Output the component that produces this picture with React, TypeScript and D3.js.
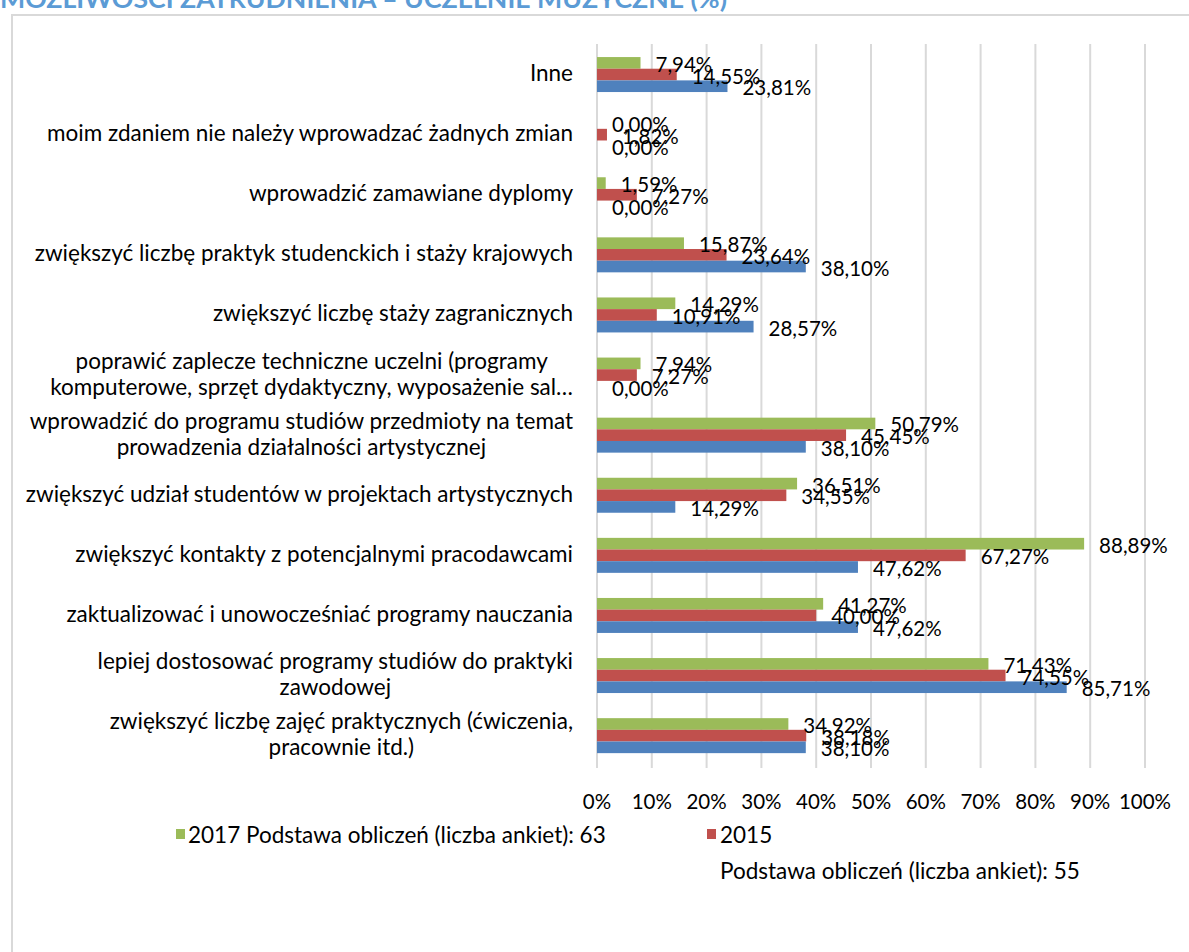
import React, { useEffect, useRef } from 'react';
import * as d3 from 'd3';

const titleText = 'MOŻLIWOŚCI ZATRUDNIENIA – UCZELNIE MUZYCZNE (%)';

const categories: string[][] = [
  ['Inne'],
  ['moim zdaniem nie należy wprowadzać żadnych zmian'],
  ['wprowadzić zamawiane dyplomy'],
  ['zwiększyć liczbę praktyk studenckich i staży krajowych'],
  ['zwiększyć liczbę staży zagranicznych'],
  ['poprawić zaplecze techniczne uczelni (programy', 'komputerowe, sprzęt dydaktyczny, wyposażenie sal…'],
  ['wprowadzić do programu studiów przedmioty na temat', 'prowadzenia działalności artystycznej'],
  ['zwiększyć udział studentów w projektach artystycznych'],
  ['zwiększyć kontakty z potencjalnymi pracodawcami'],
  ['zaktualizować i unowocześniać programy nauczania'],
  ['lepiej dostosować programy studiów do praktyki', 'zawodowej'],
  ['zwiększyć liczbę zajęć praktycznych (ćwiczenia,', 'pracownie itd.)'],
];

const values2017 = [7.94, 0.0, 1.59, 15.87, 14.29, 7.94, 50.79, 36.51, 88.89, 41.27, 71.43, 34.92];
const values2015 = [14.55, 1.82, 7.27, 23.64, 10.91, 7.27, 45.45, 34.55, 67.27, 40.0, 74.55, 38.18];
const valuesOther = [23.81, 0.0, 0.0, 38.1, 28.57, 0.0, 38.1, 14.29, 47.62, 47.62, 85.71, 38.1];

const xTicks = [0, 10, 20, 30, 40, 50, 60, 70, 80, 90, 100];

const seriesColors = ['#9BBB59', '#C0504D', '#4F81BD'];

const legend2017 = ['2017 Podstawa obliczeń (liczba ankiet): 63'];
const legend2015 = ['2015', 'Podstawa obliczeń (liczba ankiet): 55'];

const W = 1189;
const H = 952;
const FONT = 'Lato, "Open Sans", sans-serif';
const FS_TEXT = 22.5;
const FS_NUM = 20.5;

export default function App() {
  const ref = useRef<SVGSVGElement | null>(null);

  useEffect(() => {
    const svg = d3.select(ref.current);
    svg.selectAll('*').remove();

    // frame
    svg.append('rect')
      .attr('x', 12).attr('y', 15).attr('width', W + 20).attr('height', H + 20)
      .attr('fill', 'white').attr('stroke', '#D9D9D9').attr('stroke-width', 2);

    // title
    svg.append('text')
      .attr('x', 0).attr('y', 8)
      .attr('font-family', FONT).attr('font-weight', 700).attr('font-size', 24)
      .attr('fill', '#5B9BD5')
      .attr('textLength', 727).attr('lengthAdjust', 'spacingAndGlyphs')
      .text(titleText);

    const x = d3.scaleLinear().domain([0, 100]).range([597, 1145]);
    const y = d3.scaleBand<number>()
      .domain(d3.range(categories.length))
      .range([44.5, 765.7])
      .paddingInner(0.418)
      .paddingOuter(0.209);
    const ys = d3.scaleBand<number>().domain([0, 1, 2]).range([0, y.bandwidth()]);

    // gridlines
    svg.append('g').selectAll('line').data(xTicks).join('line')
      .attr('x1', d => x(d)).attr('x2', d => x(d))
      .attr('y1', 44).attr('y2', 768)
      .attr('stroke', '#D9D9D9').attr('stroke-width', 2);

    const data = [values2017, values2015, valuesOther];

    data.forEach((vals, si) => {
      const g = svg.append('g');
      g.selectAll('rect').data(vals).join('rect')
        .attr('x', x(0))
        .attr('y', (_, i) => (y(i) as number) + (ys(si) as number))
        .attr('width', d => x(d) - x(0))
        .attr('height', ys.bandwidth())
        .attr('fill', seriesColors[si]);
    });

    data.forEach((vals, si) => {
      const g = svg.append('g');
      g.selectAll('text').data(vals).join('text')
        .attr('x', d => x(d) + 15)
        .attr('y', (_, i) => (y(i) as number) + (ys(si) as number) + ys.bandwidth() / 2 + 1)
        .attr('dominant-baseline', 'central')
        .attr('font-family', FONT).attr('font-size', FS_NUM).attr('fill', '#000')
        .text(d => d3.format('.2f')(d).replace('.', ',') + '%');
    });

    // category labels
    const lineH = 26;
    categories.forEach((lines, i) => {
      const cy = (y(i) as number) + y.bandwidth() / 2;
      const g = svg.append('g');
      const texts = lines.map((ln, li) =>
        g.append('text')
          .attr('x', 0)
          .attr('y', (li - (lines.length - 1) / 2) * lineH)
          .attr('text-anchor', 'middle')
          .attr('dominant-baseline', 'central')
          .attr('font-family', FONT).attr('font-size', FS_TEXT).attr('fill', '#000')
          .text(ln)
      );
      const maxW = d3.max(texts, t => (t.node() as SVGTextElement).getComputedTextLength()) || 0;
      g.attr('transform', `translate(${573 - maxW / 2},${cy - 2})`);
    });

    // axis labels
    svg.append('g').selectAll('text').data(xTicks).join('text')
      .attr('x', d => x(d)).attr('y', 801)
      .attr('text-anchor', 'middle').attr('dominant-baseline', 'central')
      .attr('font-family', FONT).attr('font-size', FS_NUM).attr('fill', '#000')
      .text(d => `${d}%`);

    // legend
    const lg = svg.append('g');
    lg.append('rect').attr('x', 176).attr('y', 829).attr('width', 9).attr('height', 10).attr('fill', seriesColors[0]);
    lg.append('text').attr('x', 188).attr('y', 834).attr('dominant-baseline', 'central')
      .attr('font-family', FONT).attr('font-size', FS_TEXT).text(legend2017[0]);
    lg.append('rect').attr('x', 707).attr('y', 829).attr('width', 9).attr('height', 10).attr('fill', seriesColors[1]);
    legend2015.forEach((t, i) => {
      lg.append('text').attr('x', 720).attr('y', 834 + i * 36).attr('dominant-baseline', 'central')
        .attr('font-family', FONT).attr('font-size', FS_TEXT).text(t);
    });
  }, []);

  return (
    <svg
      ref={ref}
      width={W}
      height={H}
      style={{ position: 'absolute', left: 0, top: 0, background: 'white' }}
    />
  );
}
